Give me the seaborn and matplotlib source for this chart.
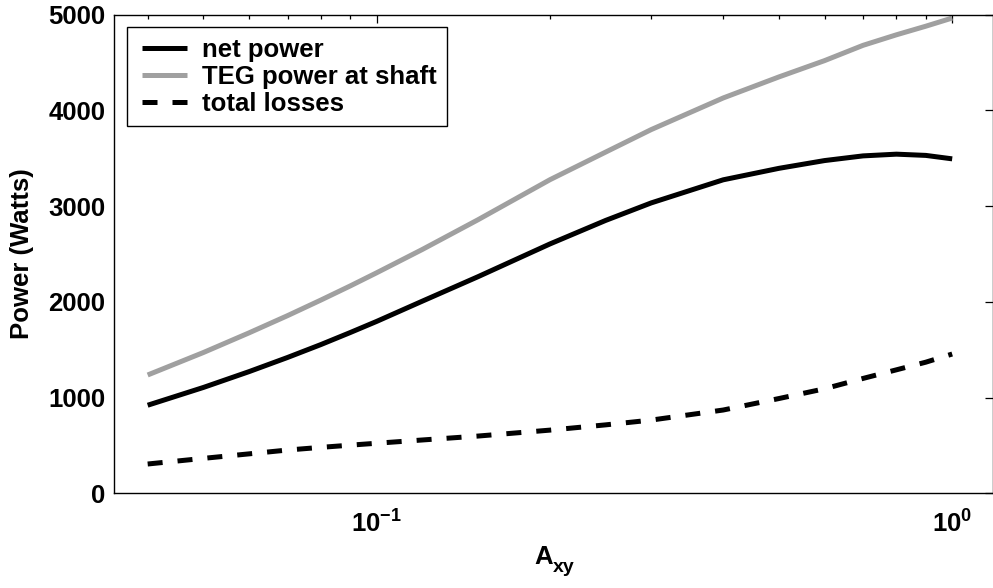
import numpy as np
import pandas as pd
import matplotlib
matplotlib.use("Agg")
import matplotlib.pyplot as plt
import seaborn as sns
from matplotlib.legend_handler import HandlerLine2D
from matplotlib.lines import Line2D
from matplotlib.ticker import FixedLocator, NullFormatter

# ---- data ----
a_xy = [0.04, 0.05, 0.06, 0.07, 0.08, 0.09, 0.1, 0.12, 0.15, 0.2,
        0.25, 0.3, 0.4, 0.5, 0.6, 0.7, 0.8, 0.9, 1.0]
net_power = [920, 1106, 1271, 1419, 1554, 1680, 1796, 2007, 2263, 2605,
             2851, 3034, 3275, 3395, 3476, 3525, 3543, 3530, 3494]
teg_power = [1236, 1471, 1676, 1856, 2019, 2167, 2304, 2547, 2858, 3276,
             3565, 3800, 4130, 4350, 4520, 4680, 4790, 4880, 4965]
total_losses = [306, 365, 412, 452, 480, 503, 523, 557, 598, 660,
                715, 765, 870, 990, 1092, 1200, 1290, 1370, 1455]
series_names = ["net power", "TEG power at shaft", "total losses"]
y_ticks = [0, 1000, 2000, 3000, 4000, 5000]
x_major = [0.1, 1.0]
x_major_labels = [r"$\mathbf{10^{-1}}$", r"$\mathbf{10^{0}}$"]

sns.set_style("white")
plt.rcParams["font.family"] = ["Liberation Sans", "DejaVu Sans"]
plt.rcParams["font.weight"] = "bold"
plt.rcParams["text.color"] = "black"
plt.rcParams["axes.labelcolor"] = "black"
plt.rcParams["xtick.color"] = "black"
plt.rcParams["ytick.color"] = "black"
plt.rcParams["mathtext.fontset"] = "custom"
plt.rcParams["mathtext.rm"] = "Liberation Sans:bold"
plt.rcParams["mathtext.bf"] = "Liberation Sans:bold"
plt.rcParams["mathtext.it"] = "Liberation Sans:bold"
plt.rcParams["mathtext.sf"] = "Liberation Sans:bold"

FS = 18.5
W, H = 993, 588
fig = plt.figure(figsize=(W / 100, H / 100), dpi=100)
ax = fig.add_axes([114.3 / W, 1 - 493.3 / H, (992.5 - 114.3) / W, (493.3 - 14.7) / H])

df = pd.DataFrame({"x": a_xy, "net": net_power, "teg": teg_power, "loss": total_losses})

lw = 3.6
sns.lineplot(data=df, x="x", y="net", ax=ax, color="black", lw=lw, label=series_names[0])
sns.lineplot(data=df, x="x", y="teg", ax=ax, color="#a0a0a0", lw=lw, label=series_names[1])
sns.lineplot(data=df, x="x", y="loss", ax=ax, color="black", lw=lw, label=series_names[2])
ax.lines[2].set_dashes([3.0, 3.0])
for ln in ax.lines:
    ln.set_solid_capstyle("butt")
    ln.set_dash_capstyle("butt")

ax.set_xscale("log")
ax.set_xlim(0.035, 1.175)
ax.set_ylim(0, 5000)
ax.set_yticks(y_ticks)
ax.set_yticklabels([str(v) for v in y_ticks])
ax.xaxis.set_major_locator(FixedLocator(x_major))
ax.set_xticklabels(x_major_labels)
minors = [m * d for d in (0.01, 0.1) for m in range(2, 10)]
ax.xaxis.set_minor_locator(FixedLocator([v for v in minors if 0.035 <= v <= 1.175]))
ax.xaxis.set_minor_formatter(NullFormatter())

for s in ax.spines.values():
    s.set_visible(True)
    s.set_linewidth(1.0)
    s.set_color("black")

ax.tick_params(which="both", direction="in", top=True, right=True, colors="black",
               width=0.9, labelsize=FS)
ax.tick_params(which="major", length=6)
ax.tick_params(which="minor", length=3)
ax.tick_params(axis="y", pad=6.5)
ax.tick_params(axis="x", pad=12)
for lab in ax.get_xticklabels() + ax.get_yticklabels():
    lab.set_fontweight("bold")

# x label: "A" with a large subscript "xy" (as in the reference)
ax.set_xlabel("")
ax.text(0.5 - 0.011, -0.107, "A", transform=ax.transAxes, ha="center", va="top",
        fontsize=FS, fontweight="bold", color="black")
ax.text(0.5 + 0.0115, -0.165, "xy", transform=ax.transAxes, ha="center", va="baseline",
        fontsize=14, fontweight="bold", color="black")
ax.set_ylabel("Power (Watts)", fontsize=FS, fontweight="bold")
ax.yaxis.set_label_coords(-0.092, 0.5)

handles = ax.lines[:3]
leg = ax.legend(handles, series_names, loc="upper left",
                bbox_to_anchor=((126.7 - 114.3) / (992.5 - 114.3), 1 - (27.3 - 14.7) / (493.3 - 14.7)),
                borderaxespad=0, fancybox=False, frameon=True, framealpha=1,
                edgecolor="black", borderpad=0.4, labelspacing=0.12,
                handlelength=1.93, handletextpad=0.6,
                handler_map={Line2D: HandlerLine2D(xpad=0.2)},
                prop={"weight": "bold", "size": FS})
leg.get_frame().set_linewidth(1.0)
for t in leg.get_texts():
    t.set_color("black")

fig.savefig("out.png", dpi=100)
